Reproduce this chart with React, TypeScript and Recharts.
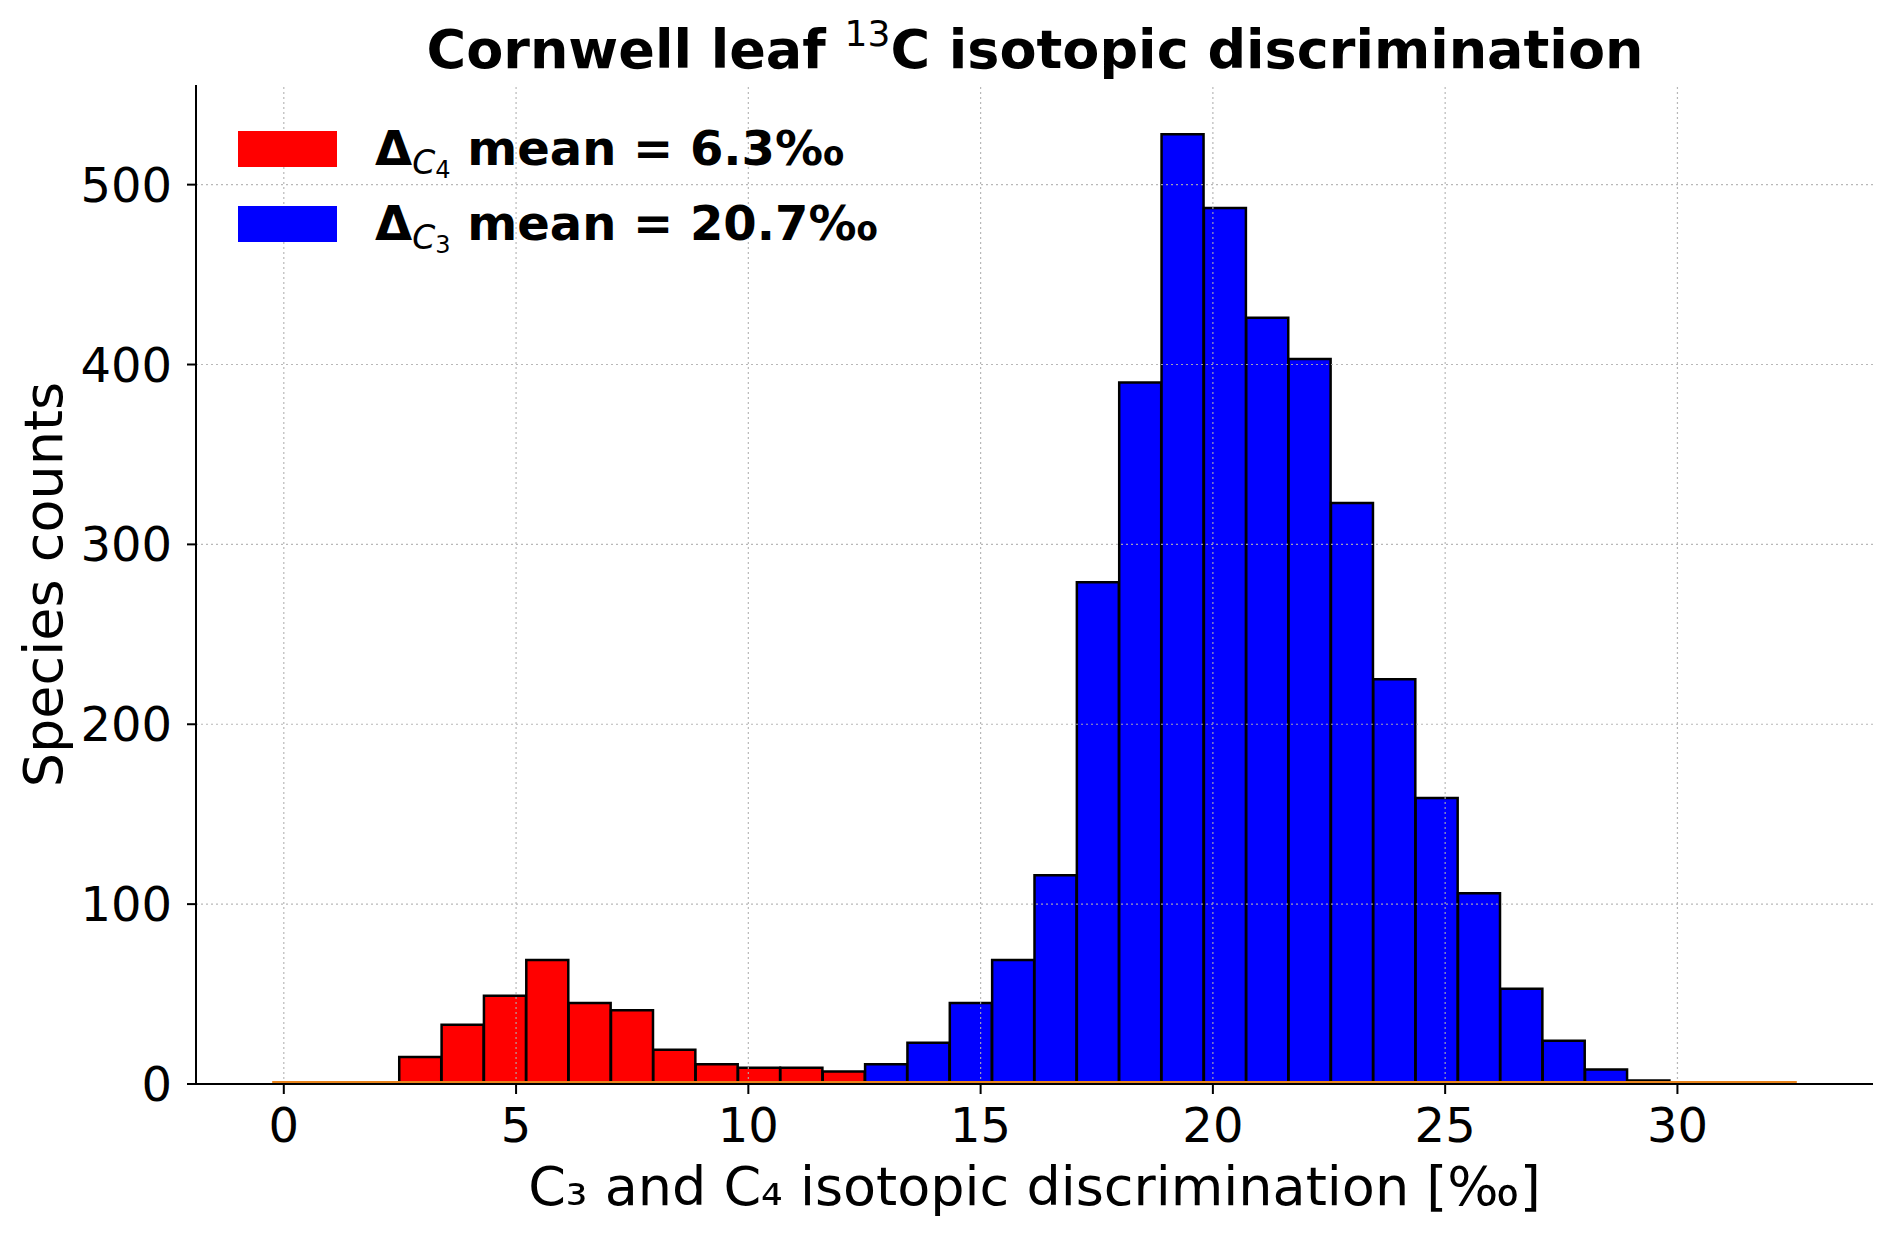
import React from 'react';
import { ComposedChart, Bar, XAxis, YAxis, ReferenceLine, Legend, Label } from 'recharts';

const FONT = '"DejaVu Sans", "Liberation Sans", sans-serif';

// Histogram bin centres (36 equal bins from -0.25 to 32.57 ‰)
const binCenters = [
  0.2058, 1.1175, 2.0292, 2.9408, 3.8525, 4.7642, 5.6758, 6.5875, 7.4992, 8.4108,
  9.3225, 10.2342, 11.1458, 12.0575, 12.9692, 13.8808, 14.7925, 15.7042, 16.6158, 17.5275,
  18.4392, 19.3508, 20.2625, 21.1742, 22.0858, 22.9975, 23.9092, 24.8208, 25.7325, 26.6442,
  27.5558, 28.4675, 29.3792, 30.2908, 31.2025, 32.1142,
];

// C4 species counts per bin
const c4Counts = [
  0, 0, 0, 15, 33, 49, 69, 45, 41, 19,
  11, 9, 9, 7, 0, 0, 0, 0, 0, 0,
  0, 0, 0, 0, 0, 0, 0, 0, 0, 0,
  0, 0, 0, 0, 0, 0,
];

// C3 species counts per bin
const c3Counts = [
  0, 0, 0, 0, 0, 0, 0, 0, 0, 0,
  0, 0, 0, 0, 11, 23, 45, 69, 116, 279,
  390, 528, 487, 426, 403, 323, 225, 159, 106, 53,
  24, 8, 2, 0, 0, 0,
];

const histRange = [-0.25, 32.57];
const xTicks = [0, 5, 10, 15, 20, 25, 30];
const yTicks = [0, 100, 200, 300, 400, 500];
const xDomain = [-1.89, 34.21];
const yDomain = [0, 555.4];

const legendItems = [
  { color: '#ff0000', sub: 'C', subsub: '4', text: ' mean = 6.3‰' },
  { color: '#0000ff', sub: 'C', subsub: '3', text: ' mean = 20.7‰' },
];

const data = binCenters.map((x, i) => ({ x, c4: c4Counts[i], c3: c3Counts[i] }));

const renderLegend = () => (
  <svg width={900} height={260} style={{ display: 'block' }}>
    {legendItems.map((it, i) => {
      const top = 131 + i * 75;
      const base = 165 + i * 75;
      return (
        <g key={i}>
          <rect x={238} y={top} width={99} height={36} fill={it.color} />
          <text x={375} y={base} fontSize={48} fontWeight="bold" fill="#000" style={{ whiteSpace: 'pre', fontFamily: FONT }}>
            <tspan>Δ</tspan>
            <tspan fontSize={33} fontStyle="italic" fontWeight="normal" dy={9}>{it.sub}</tspan>
            <tspan fontSize={24} fontWeight="normal" dy={4}>{it.subsub}</tspan>
            <tspan dy={-13} fontSize={48}>{it.text}</tspan>
          </text>
        </g>
      );
    })}
  </svg>
);

// ReferenceLine shape that lifts the line slightly above the bottom spine
const LiftedLine = (props: any) => {
  const { x1, y1, x2, y2, stroke, strokeWidth } = props;
  return <line x1={x1} y1={y1 - 2} x2={x2} y2={y2 - 2} stroke={stroke} strokeWidth={strokeWidth} />;
};

const gridStyle = { stroke: '#b0b0b0', strokeOpacity: 0.9, strokeWidth: 1.2, strokeDasharray: '2 3' };

export default function App() {
  return (
    <div style={{ position: 'absolute', left: 0, top: 0, width: 1892, height: 1235, background: '#fff', fontFamily: FONT, overflow: 'hidden' }}>
      <svg width={1892} height={90} style={{ position: 'absolute', left: 0, top: 0 }}>
        <text x={1035} y={68} textAnchor="middle" fontSize={54} fontWeight="bold" fill="#000" style={{ whiteSpace: 'pre', fontFamily: FONT }}>
          <tspan>Cornwell leaf </tspan>
          <tspan fontSize={36} fontWeight="normal" dy={-22}>13</tspan>
          <tspan dy={22}>C isotopic discrimination</tspan>
        </text>
      </svg>
      <ComposedChart
        width={1892}
        height={1235}
        data={data}
        margin={{ top: 85, right: 19, bottom: 0, left: 0 }}
        barCategoryGap={0}
        barGap={0}
      >
        <XAxis
          type="number"
          dataKey="x"
          domain={xDomain}
          allowDataOverflow
          ticks={xTicks}
          height={151}
          tickSize={10}
          tickMargin={14}
          axisLine={{ stroke: '#000', strokeWidth: 2 }}
          tickLine={{ stroke: '#000', strokeWidth: 2 }}
          tick={{ fontSize: 48, fill: '#000', fontFamily: FONT }}
        >
          <Label value="C₃ and C₄ isotopic discrimination [‰]" position="insideBottom" offset={30} style={{ fontSize: 54, fill: '#000', fontFamily: FONT }} />
        </XAxis>
        <YAxis
          type="number"
          domain={yDomain}
          allowDataOverflow
          ticks={yTicks}
          width={196}
          tickSize={9}
          tickMargin={15}
          axisLine={{ stroke: '#000', strokeWidth: 2 }}
          tickLine={{ stroke: '#000', strokeWidth: 2 }}
          tick={{ fontSize: 48, fill: '#000', fontFamily: FONT }}
        >
          <Label value="Species counts" position="center" angle={-90} dx={-55.5} style={{ fontSize: 54, fill: '#000', fontFamily: FONT, textAnchor: 'middle' }} />
        </YAxis>
        <Bar dataKey="c4" stackId="h" fill="#ff0000" stroke="#000" strokeWidth={2.5} isAnimationActive={false} />
        <Bar dataKey="c3" stackId="h" fill="#0000ff" stroke="#000" strokeWidth={2.5} isAnimationActive={false} />
        {xTicks.map((t) => (
          <ReferenceLine key={`gx${t}`} x={t} {...gridStyle} />
        ))}
        {yTicks.filter((t) => t > 0).map((t) => (
          <ReferenceLine key={`gy${t}`} y={t} {...gridStyle} />
        ))}
        <ReferenceLine
          segment={[{ x: histRange[0], y: 0 }, { x: histRange[1], y: 0 }]}
          stroke="#e8841c"
          strokeWidth={2}
          shape={LiftedLine}
        />
        <Legend
          layout="horizontal"
          verticalAlign="middle"
          align="center"
          content={renderLegend}
          wrapperStyle={{ position: 'absolute', left: 0, top: 0, width: 900, height: 260 }}
        />
      </ComposedChart>
    </div>
  );
}
